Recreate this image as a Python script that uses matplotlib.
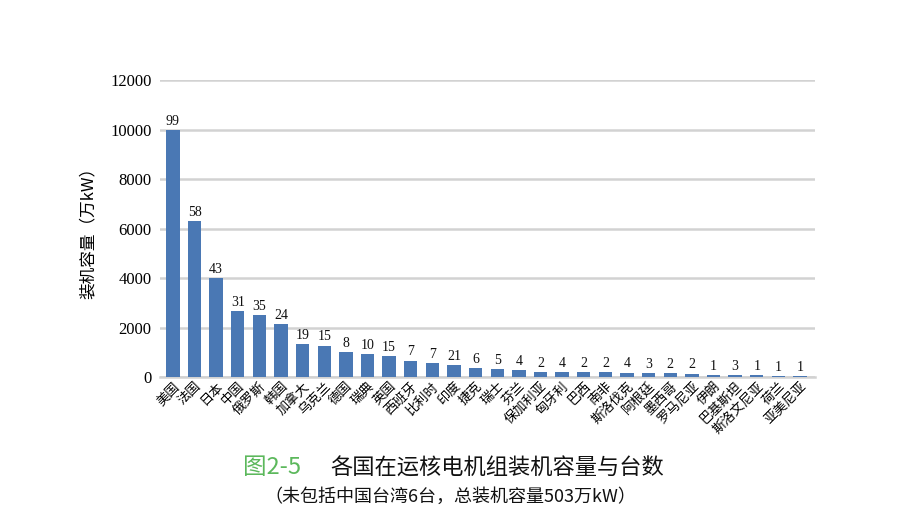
import matplotlib
matplotlib.use('Agg')
import matplotlib.pyplot as plt
import numpy as np

countries = ['美国', '法国', '日本', '中国', '俄罗斯', '韩国', '加拿大', '乌克兰', '德国', '瑞典',
             '英国', '西班牙', '比利时', '印度', '捷克', '瑞士', '芬兰', '保加利亚', '匈牙利', '巴西',
             '南非', '斯洛伐克', '阿根廷', '墨西哥', '罗马尼亚', '伊朗', '巴基斯坦', '斯洛文尼亚', '荷兰', '亚美尼亚']
capacity = [9980, 6310, 4010, 2665, 2500, 2140, 1320, 1265, 1010, 915,
            860, 660, 555, 470, 375, 333, 276, 193, 189, 199,
            186, 181, 163, 160, 141, 92, 72, 69, 49, 38]
units = [99, 58, 43, 31, 35, 24, 19, 15, 8, 10,
         15, 7, 7, 21, 6, 5, 4, 2, 4, 2,
         2, 4, 3, 2, 2, 1, 3, 1, 1, 1]
yticks = [0, 2000, 4000, 6000, 8000, 10000, 12000]

cjk = ['Noto Sans CJK SC', 'DejaVu Sans']
serif = 'Liberation Serif'

fig = plt.figure(figsize=(9.19, 5.27), dpi=100, facecolor='white')
ax = fig.add_axes([0.174, 0.2846, 0.713, 0.5636])

x = np.arange(len(countries))
ax.bar(x, capacity, width=0.62, color='#4a78b4', zorder=3)
for xi, c, n in zip(x, capacity, units):
    ax.text(xi, c + 90, str(n), ha='center', va='bottom', fontsize=10, family=serif, color='#111111')

ax.set_xlim(-0.6, 29.7)
ax.set_ylim(0, 12000)
ax.set_yticks(yticks)
ax.set_yticklabels([str(t) for t in yticks], family=serif, fontsize=12)
ax.yaxis.grid(True, color='#d2d2d2', linewidth=1.8, zorder=0)
ax.set_axisbelow(True)
ax.tick_params(axis='y', length=0, pad=6)
ax.tick_params(axis='x', length=0, pad=2)
ax.set_xticks(x)
ax.set_xticklabels(countries, rotation=45, ha='right', rotation_mode='anchor',
                   family=cjk, fontsize=9.5)
for s in ['top', 'right', 'left']:
    ax.spines[s].set_visible(False)
ax.spines['bottom'].set_color('#d2d2d2')
ax.spines['bottom'].set_linewidth(1.8)

ax.set_ylabel('装机容量（万kW）', family=cjk, fontsize=12, labelpad=10)

fig.text(243 / 919, 1 - 468 / 527, '图2-5', color='#5cb85c', fontsize=17, family=cjk,
         ha='left', va='center')
fig.text(330 / 919, 1 - 468 / 527, '各国在运核电机组装机容量与台数', color='#111111', fontsize=16,
         family=cjk, weight='medium', ha='left', va='center')
fig.text(450 / 919, 1 - 497 / 527, '（未包括中国台湾6台，总装机容量503万kW）', color='#111111',
         fontsize=13, family=cjk, ha='center', va='center')

fig.savefig('out.png', dpi=100)
